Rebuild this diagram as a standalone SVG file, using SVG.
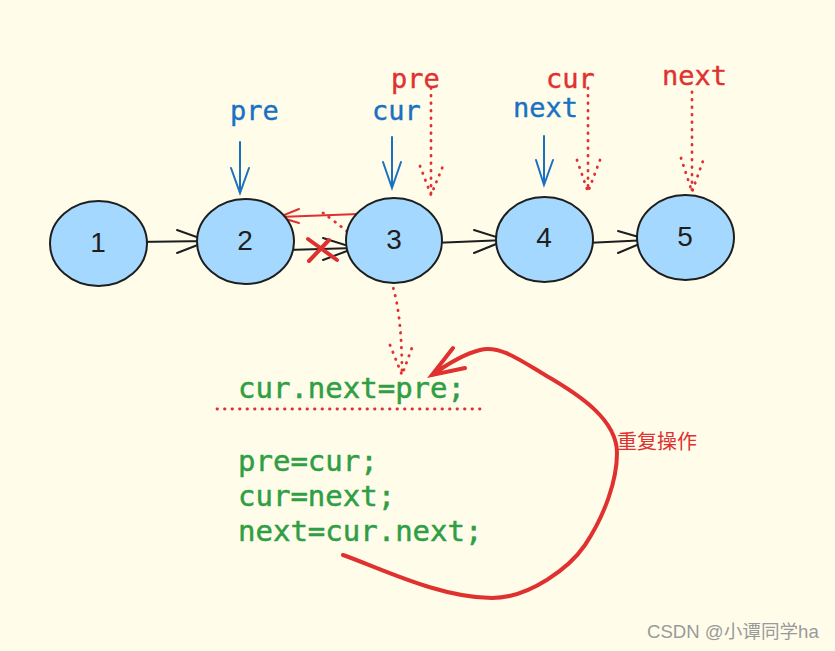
<svg xmlns="http://www.w3.org/2000/svg" width="835" height="651" viewBox="0 0 835 651">
<style>
.node{fill:#a5d8ff;stroke:#1e1e1e;stroke-width:2}
.num{font-family:"Liberation Sans","DejaVu Sans",sans-serif;font-size:28px;fill:#1e1e1e;text-anchor:middle;dominant-baseline:central}
.blk{stroke:#1e1e1e;stroke-width:2;fill:none;stroke-linecap:round}
.blue{stroke:#1971c2;stroke-width:2;fill:none;stroke-linecap:round}
.red{stroke:#e03131;stroke-width:2;fill:none;stroke-linecap:round}
.dot{stroke:#e03131;stroke-width:2.8;fill:none;stroke-linecap:round;stroke-dasharray:0.5 7}
.lb{font-family:"DejaVu Sans Mono","Liberation Mono",monospace;font-size:27px;stroke-width:0.4}
.code{font-family:"DejaVu Sans Mono","Liberation Mono",monospace;font-size:29px;fill:#2f9e44;stroke:#2f9e44;stroke-width:0.5}
</style>
<rect width="835" height="651" fill="#fffdea"/>
<g id="connectors">
<path class="blk" d="M136,242 L208,241 M177,230 L208,241 L177,253"/>
<path class="blk" d="M287,250 L355,248 M323,238 L355,248 L323,260"/>
<path class="blk" d="M433,243 L506,240 M474,230 L506,240 L474,253"/>
<path class="blk" d="M586,243 L649,240 M618,231 L649,240 L618,253"/>
<path class="red" style="stroke-width:4" d="M308,239 L337,260 M309,261 L329,240"/>
<path class="red" d="M359,214 L279,217 M299,209 L279,217 L299,223"/>
<path class="dot" d="M323,213 C340,225 365,245 385,268 C398,290 402,330 402,375 M390,345 L402,375 L413,345"/>
<path class="blue" d="M240,142 L240,193 M231,168 L240,193 L249,168"/>
<path class="blue" d="M392,137 L392,188 M383,162 L392,188 L401,162"/>
<path class="blue" d="M544,136 L544,185 M536,160 L544,185 L553,160"/>
<path class="dot" d="M431,88 L431,195 M420,166 L431,195 L443,166"/>
<path class="dot" d="M588,88 L588,192 M577,160 L588,192 L600,160"/>
<path class="dot" d="M692,92 L692,192 M681,158 L692,192 L704,158"/>
<path class="dot" d="M217,409 L485,409"/>
<path class="red" style="stroke-width:4" d="M343,555 C380,568 440,598 492,598 C530,598 570,567 585,545 C605,515 617,480 617,453 C617,420 580,395 545,375 C520,360 500,345 480,350 C460,355 442,368 432,375 M453,348 L432,375 L465,368"/>
</g>
<g id="node1"><ellipse class="node" cx="98.5" cy="243.5" rx="48.5" ry="42.5"/><text class="num" x="98" y="242">1</text></g>
<g id="node2"><ellipse class="node" cx="245.5" cy="241.5" rx="48.5" ry="42.5"/><text class="num" x="245" y="240">2</text></g>
<g id="node3"><ellipse class="node" cx="394" cy="240.5" rx="48" ry="42.5"/><text class="num" x="394" y="239">3</text></g>
<g id="node4"><ellipse class="node" cx="544.5" cy="239.5" rx="48.5" ry="42.5"/><text class="num" x="544" y="237">4</text></g>
<g id="node5"><ellipse class="node" cx="685.5" cy="237.5" rx="48.5" ry="42.5"/><text class="num" x="685" y="236">5</text></g>
<g id="labels">
<text class="lb" x="230" y="120" fill="#1971c2" stroke="#1971c2">pre</text>
<text class="lb" x="372" y="120" fill="#1971c2" stroke="#1971c2">cur</text>
<text class="lb" x="513" y="117" fill="#1971c2" stroke="#1971c2">next</text>
<text class="lb" x="391" y="88" fill="#e03131" stroke="#e03131">pre</text>
<text class="lb" x="546" y="88" fill="#e03131" stroke="#e03131">cur</text>
<text class="lb" x="662" y="85" fill="#e03131" stroke="#e03131">next</text>
</g>
<g id="code">
<text class="code" x="238" y="398">cur.next=pre;</text>
<text class="code" x="238" y="471">pre=cur;</text>
<text class="code" x="238" y="506">cur=next;</text>
<text class="code" x="238" y="541">next=cur.next;</text>
</g>
<text x="617" y="449" font-family="'Noto Sans CJK SC',sans-serif" font-size="20" fill="#e03131">重复操作</text>
<text x="647" y="638" font-family="'Liberation Sans','Noto Sans CJK SC',sans-serif" font-size="18.6" fill="#9a9a9a">CSDN @小谭同学ha</text>
</svg>
